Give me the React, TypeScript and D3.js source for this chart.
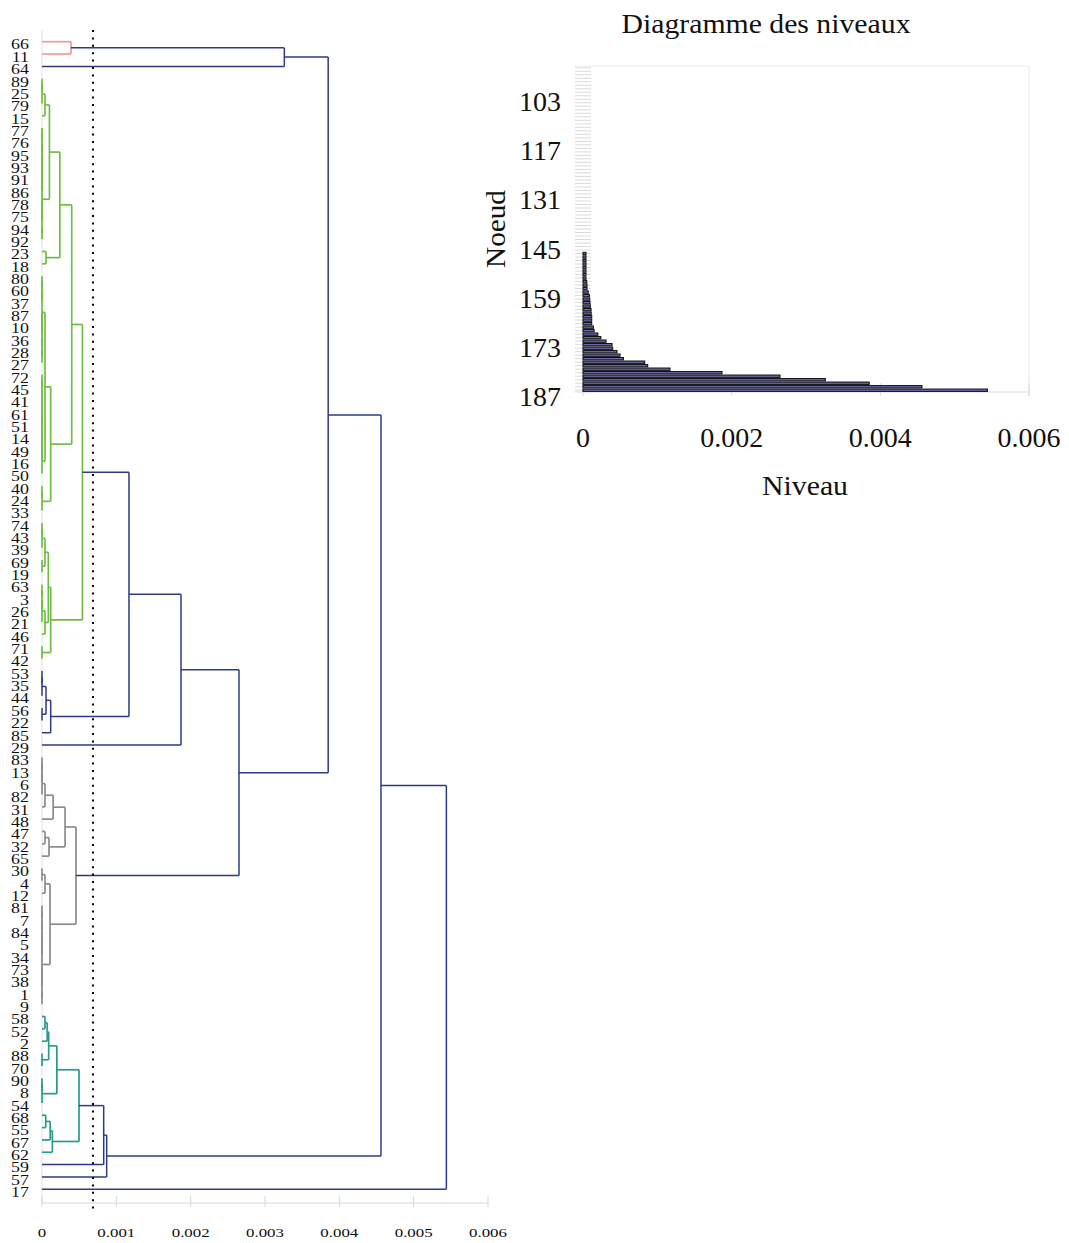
import React from "react";
import * as d3 from "d3";

// ---------- DATA ----------
const leafOrder = [66, 11, 64, 89, 25, 79, 15, 77, 76, 95, 93, 91, 86, 78, 75, 94, 92, 23, 18, 80, 60, 37, 87, 10, 36, 28, 27, 72, 45, 41, 61, 51, 14, 49, 16, 50, 40, 24, 33, 74, 43, 39, 69, 19, 63, 3, 26, 21, 46, 71, 42, 53, 35, 44, 56, 22, 85, 29, 83, 13, 6, 82, 31, 48, 47, 32, 65, 30, 4, 12, 81, 7, 84, 5, 34, 73, 38, 1, 9, 58, 52, 2, 88, 70, 90, 8, 54, 68, 55, 67, 62, 59, 57, 17];

type Ref = number | string;
type Merge = [string, Ref, Ref, number];

// [id, upper child, lower child, height]; numbers are leaves, strings are merges
const redMerges: Merge[] = [["r1", 66, 11, 0.00039]];

const greenMerges: Merge[] = [
  ["q1", 89, 25, 0], ["q2", "q1", 79, 0], ["q3", "q2", 15, 0.00004],
  ["s1", 77, 76, 0], ["s2", "s1", 95, 0], ["s3", "s2", 93, 0], ["s4", "s3", 91, 0], ["s5", "s4", 86, 0],
  ["s6", 78, 75, 0], ["s7", 94, 92, 0], ["s8", "s6", "s7", 0], ["s9", "s5", "s8", 0],
  ["p1", "q3", "s9", 0.0001], ["t1", 23, 18, 0.000054], ["g1a", "p1", "t1", 0.00024],
  ["u1", 80, 60, 0], ["u2", "u1", 37, 0], ["u3", 87, 10, 0], ["u4", 28, 27, 0], ["u5", 36, "u4", 0],
  ["u6", "u3", "u5", 0], ["u7", "u2", "u6", 0],
  ["u8", 72, 45, 0], ["u9", "u8", 41, 0], ["u10", "u9", 61, 0], ["u11", "u10", 51, 0], ["u12", "u11", 14, 0],
  ["u13", "u12", 49, 0], ["u14", "u13", 16, 0], ["u15", "u14", 50, 0], ["u16", "u7", "u15", 0.00004],
  ["v1", 40, 24, 0], ["v2", "v1", 33, 0], ["g1b", "u16", "v2", 0.000117], ["g1", "g1a", "g1b", 0.0004],
  ["w1", 74, 43, 0], ["w2", "w1", 39, 0], ["w3", 69, 19, 0], ["w4", "w2", "w3", 0.00004],
  ["w5", 63, 3, 0], ["w6", "w5", 26, 0], ["w7", "w6", 21, 0], ["w8", "w7", 46, 0.00004],
  ["w9", "w4", "w8", 0.000085], ["w10", 71, 42, 0], ["g2", "w9", "w10", 0.000117], ["g", "g1", "g2", 0.000544],
];

const navyMerges: Merge[] = [
  ["n1", 53, 35, 0], ["n2", "n1", 44, 0], ["n3", 56, 22, 0], ["n4", "n2", "n3", 0.000054], ["n5", "n4", 85, 0.000117],
];

const grayMerges: Merge[] = [
  ["k1", 83, 13, 0], ["k2", "k1", 6, 0], ["k3", "k2", 82, 0], ["k4", "k3", 31, 0.00004], ["k5", "k4", 48, 0.00015],
  ["k6", 47, 32, 0.00004], ["k7", "k6", 65, 0.000094], ["k8", "k5", "k7", 0.00031],
  ["k9", 30, 4, 0], ["k10", "k9", 12, 0.00004],
  ["k11", 81, 7, 0], ["k12", "k11", 84, 0], ["k13", "k12", 5, 0], ["k14", "k13", 34, 0],
  ["k15", 73, 38, 0], ["k16", 1, 9, 0], ["k17", "k15", "k16", 0], ["k18", "k14", "k17", 0],
  ["k19", "k10", "k18", 0.000108], ["k20", "k8", "k19", 0.000457],
];

const tealMerges: Merge[] = [
  ["c1", 58, 52, 0.00004], ["c2", "c1", 2, 0.00007], ["c3", 88, 70, 0], ["c4", "c2", "c3", 0.00009],
  ["c5", 90, 8, 0], ["c6", "c5", 54, 0], ["c7", "c4", "c6", 0.0002],
  ["c8", 68, 55, 0.00005], ["c9", "c8", 67, 0.00011], ["c10", "c9", 62, 0.000139], ["c11", "c7", "c10", 0.000498],
];

const topMerges: Merge[] = [
  ["c12", "c11", 59, 0.00083], ["c13", "c12", 57, 0.00087],
  ["e1", "g", "n5", 0.00117], ["e2", "e1", 29, 0.00187], ["e3", "e2", "k20", 0.00265],
  ["e4", "r1", 64, 0.00326], ["e5", "e4", "e3", 0.00385], ["e6", "e5", "c13", 0.00456], ["e7", "e6", 17, 0.00544],
];

const cutHeight = 0.000686;
const dendroTicks = [0, 0.001, 0.002, 0.003, 0.004, 0.005, 0.006];
const levelTicks = [0, 0.002, 0.004, 0.006];
const nodeTicks = [103, 117, 131, 145, 159, 173, 187];
const clusterColors = ["#f29b9b", "#70bd45", "#2e3a82", "#8c8c8c", "#2a9a8f"];
const linkColor = "#2e3a82";
const titleText = "Diagramme des niveaux";
const xLabel = "Niveau";
const yLabel = "Noeud";

// ---------- COMPONENT ----------
const FONT = "'Liberation Serif', 'Times New Roman', serif";

export default function App() {
  const W = 1069, H = 1243;
  const allMerges = [...redMerges, ...greenMerges, ...navyMerges, ...grayMerges, ...tealMerges, ...topMerges];
  const byId = new Map<string, Merge>(allMerges.map((m) => [m[0], m]));

  const x = d3.scaleLinear().domain([0, 0.006]).range([42, 488]);
  const yLeaf = d3.scalePoint<string>().domain(leafOrder.map(String)).range([41.7, 1189.3]);

  const yCache = new Map<string, number>();
  const yOf = (r: Ref): number => {
    if (typeof r === "number") return yLeaf(String(r)) as number;
    if (yCache.has(r)) return yCache.get(r)!;
    const m = byId.get(r)!;
    const v = (yOf(m[1]) + yOf(m[2])) / 2;
    yCache.set(r, v);
    return v;
  };
  const hOf = (r: Ref) => (typeof r === "number" ? 0 : byId.get(r)![3]);

  const colorOf = new Map<string, string>();
  let ci = 0;
  const assign = (r: Ref, col: string | null) => {
    if (typeof r === "number") return;
    const m = byId.get(r)!;
    let c = col;
    if (m[3] > cutHeight) c = null;
    else if (c === null) c = clusterColors[ci++ % clusterColors.length];
    colorOf.set(m[0], c === null ? linkColor : c);
    assign(m[1], c);
    assign(m[2], c);
  };
  const root = topMerges[topMerges.length - 1][0];
  assign(root, null);

  const segs: { x1: number; y1: number; x2: number; y2: number; c: string }[] = [];
  allMerges.forEach(([id, a, b, h]) => {
    const c = colorOf.get(id)!;
    const xm = x(h);
    const ya = yOf(a), yb = yOf(b);
    segs.push({ x1: xm, y1: ya, x2: xm, y2: yb, c });
    if (x(hOf(a)) < xm - 0.01) segs.push({ x1: x(hOf(a)), y1: ya, x2: xm, y2: ya, c });
    if (x(hOf(b)) < xm - 0.01) segs.push({ x1: x(hOf(b)), y1: yb, x2: xm, y2: yb, c });
  });
  const colored = segs.filter((s) => s.c !== linkColor);
  const navy = segs.filter((s) => s.c === linkColor);

  const levels = allMerges.map((m) => m[3]).sort(d3.ascending);
  const firstNode = leafOrder.length + 1;
  const nodes = levels.map((v, i) => ({ n: firstNode + i, v }));
  const xL = d3.scaleLinear().domain([0, 0.006]).range([583, 1029]);
  const yL = d3.scaleLinear().domain([firstNode - 0.5, firstNode + levels.length - 0.5]).range([66, 392]);
  const band = yL(1) - yL(0);
  const barH = band * 0.66;

  return (
    <svg width={W} height={H} style={{ position: "absolute", left: 0, top: 0, background: "#fff" }} fontFamily={FONT}>
      <rect x={0} y={0} width={W} height={H} fill="#fff" />
      {/* dendrogram axis */}
      <line x1={x(0)} x2={x(0)} y1={30} y2={1203} stroke="#e2e2e2" strokeWidth={1} />
      <line x1={x(0)} x2={x(0.006)} y1={1203} y2={1203} stroke="#d6d6d6" strokeWidth={1} />
      {dendroTicks.map((t) => (
        <g key={"dt" + t}>
          <line x1={x(t)} x2={x(t)} y1={1196} y2={1207} stroke="#d6d6d6" strokeWidth={1} />
          <text transform={`translate(${x(t)},${1233}) scale(1.35,1)`} textAnchor="middle" dominantBaseline="central" fontSize={12.5} fill="#111">
            {t === 0 ? "0" : d3.format(".3f")(t)}
          </text>
        </g>
      ))}
      {colored.map((s, i) => (
        <line key={"c" + i} x1={s.x1} y1={s.y1} x2={s.x2} y2={s.y2} stroke={s.c} strokeWidth={1.7} />
      ))}
      {navy.map((s, i) => (
        <line key={"n" + i} x1={s.x1} y1={s.y1} x2={s.x2} y2={s.y2} stroke={s.c} strokeWidth={1.5} />
      ))}
      <line x1={x(cutHeight)} x2={x(cutHeight)} y1={30} y2={1212} stroke="#000" strokeWidth={2} strokeDasharray="2 5.4" />
      {leafOrder.map((l) => (
        <text key={"l" + l} transform={`translate(29,${(yLeaf(String(l)) as number) + 3}) scale(1.28,1)`} textAnchor="end" dominantBaseline="central" fontSize={14} fill="#111">
          {l}
        </text>
      ))}

      {/* level diagram */}
      <text x={766} y={23} textAnchor="middle" dominantBaseline="central" fontSize={28} textLength={289} lengthAdjust="spacingAndGlyphs" fill="#111">{titleText}</text>
      <line x1={575} x2={xL(0.006)} y1={66} y2={66} stroke="#ebebeb" />
      <line x1={xL(0.006)} x2={xL(0.006)} y1={66} y2={396} stroke="#e6e6e6" />
      {nodes.map((d) => (
        <line key={"mt" + d.n} x1={575} x2={591} y1={yL(d.n)} y2={yL(d.n)} stroke="#dadada" strokeWidth={1} />
      ))}
      <line x1={575} x2={xL(0.006)} y1={392} y2={392} stroke="#d8d8d8" />
      {levelTicks.map((t) => (
        <g key={"lt" + t}>
          <line x1={xL(t)} x2={xL(t)} y1={383} y2={396} stroke="#d8d8d8" />
          <text x={xL(t)} y={437} textAnchor="middle" dominantBaseline="central" fontSize={28} fill="#111">
            {t === 0 ? "0" : d3.format(".3f")(t)}
          </text>
        </g>
      ))}
      {nodes.filter((d) => xL(d.v) - xL(0) > 0).map((d) => (
        <rect key={"b" + d.n} x={xL(0)} y={yL(d.n) - barH / 2} width={xL(d.v) - xL(0)} height={barH} fill="#6e6eb8" stroke="#141414" strokeWidth={1.1} />
      ))}
      {nodeTicks.map((n) => (
        <text key={"nt" + n} x={561} y={yL(n) + 6} textAnchor="end" dominantBaseline="central" fontSize={28} fill="#111">{n}</text>
      ))}
      <text x={805} y={485} textAnchor="middle" dominantBaseline="central" fontSize={28} textLength={86} lengthAdjust="spacingAndGlyphs" fill="#111">{xLabel}</text>
      <text transform={`translate(495,229) rotate(-90)`} textAnchor="middle" dominantBaseline="central" fontSize={28} textLength={78} lengthAdjust="spacingAndGlyphs" fill="#111">{yLabel}</text>
    </svg>
  );
}
